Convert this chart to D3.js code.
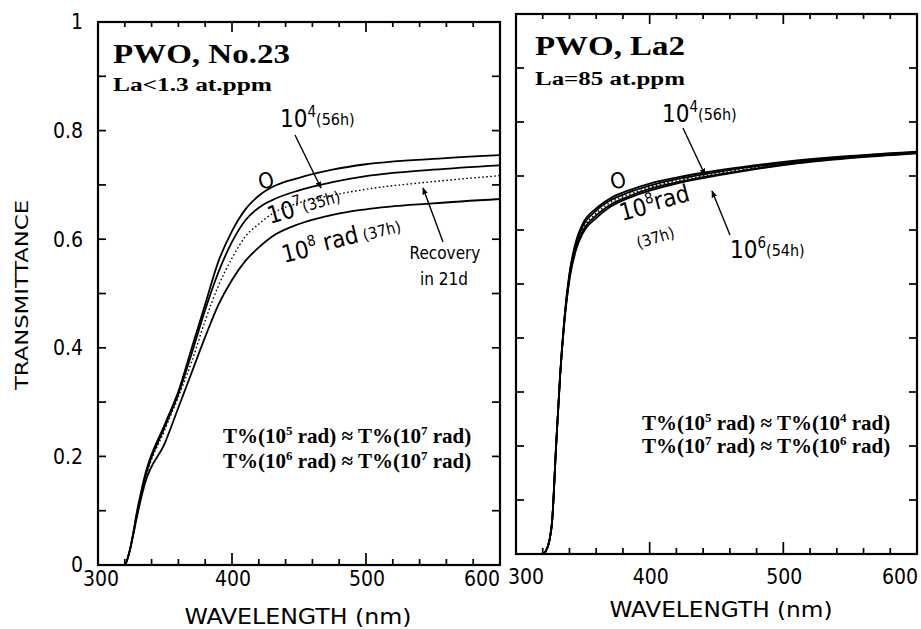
<!DOCTYPE html>
<html>
<head>
<meta charset="utf-8">
<script src="https://cdn.jsdelivr.net/npm/d3@7"></script>
<style>
body { margin: 0; background: #fff; }
svg { display: block; }
.sans { font-family: "DejaVu Sans Condensed", "DejaVu Sans", sans-serif; font-stretch: condensed; }
.serif { font-family: "Liberation Serif", "DejaVu Serif", serif; font-weight: bold; }
</style>
</head>
<body>
<svg width="921" height="629"></svg>
<script>
// left panel: PWO No.23
var wlA = [300, 320, 323, 330, 335, 350, 360, 370, 380, 390, 400, 410, 420, 430, 450, 475, 500, 550, 600];
var a0   = [0, 0, 0.02, 0.11, 0.165, 0.26, 0.32, 0.40, 0.48, 0.56, 0.615, 0.655, 0.68, 0.696, 0.713, 0.728, 0.738, 0.748, 0.755];
var a4   = [0, 0, 0.02, 0.105, 0.16, 0.255, 0.315, 0.39, 0.47, 0.54, 0.595, 0.635, 0.658, 0.672, 0.69, 0.705, 0.716, 0.728, 0.736];
var aRec = [0, 0, 0.02, 0.10, 0.155, 0.25, 0.31, 0.375, 0.45, 0.515, 0.565, 0.605, 0.628, 0.647, 0.667, 0.681, 0.692, 0.706, 0.717];
var a8   = [0, 0, 0.02, 0.10, 0.15, 0.225, 0.29, 0.355, 0.42, 0.48, 0.525, 0.56, 0.585, 0.605, 0.628, 0.645, 0.655, 0.666, 0.674];

// right panel: PWO La2
var wlB = [300, 320, 322, 325, 327, 330, 333, 336, 340, 345, 350, 360, 370, 385, 400, 420, 440, 470, 500, 550, 600];
var b0   = [0, 0, 0.004, 0.025, 0.06, 0.20, 0.33, 0.43, 0.52, 0.58, 0.612, 0.640, 0.658, 0.674, 0.686, 0.697, 0.706, 0.717, 0.726, 0.737, 0.745];
var b4   = [0, 0, 0.004, 0.025, 0.06, 0.20, 0.33, 0.43, 0.517, 0.576, 0.607, 0.636, 0.654, 0.670, 0.682, 0.694, 0.703, 0.715, 0.724, 0.736, 0.744];
var bRec = [0, 0, 0.004, 0.025, 0.06, 0.20, 0.33, 0.428, 0.514, 0.572, 0.602, 0.631, 0.650, 0.666, 0.679, 0.691, 0.700, 0.712, 0.722, 0.735, 0.743];
var b6   = [0, 0, 0.004, 0.025, 0.06, 0.20, 0.33, 0.426, 0.511, 0.568, 0.598, 0.627, 0.646, 0.663, 0.676, 0.688, 0.698, 0.710, 0.721, 0.734, 0.743];
var b8   = [0, 0, 0.004, 0.025, 0.06, 0.20, 0.33, 0.424, 0.508, 0.564, 0.594, 0.622, 0.642, 0.660, 0.673, 0.686, 0.696, 0.709, 0.720, 0.733, 0.742];

var xLabels = [300, 400, 500, 600];
var yLabels = [0, 0.2, 0.4, 0.6, 0.8, 1];
var minorX = [320, 340, 360, 380, 420, 440, 460, 480, 520, 540, 560, 580];
var majorX = [400, 500];
var yTicks = [0.1, 0.2, 0.3, 0.4, 0.5, 0.6, 0.7, 0.8, 0.9];

var svg = d3.select("svg");

svg.append("defs").append("marker")
    .attr("id", "arr")
    .attr("viewBox", "0 0 10 10")
    .attr("refX", 9).attr("refY", 5)
    .attr("markerWidth", 7).attr("markerHeight", 7)
    .attr("markerUnits", "userSpaceOnUse")
    .attr("orient", "auto")
    .append("path")
    .attr("d", "M0,1 L10,5 L0,9 Z")
    .attr("fill", "#000");

var panels = [
    { x0: 98, x1: 500, y0: 565, y1: 22, wl: wlA, yLab: true,
      series: [ { v: a0 }, { v: a4 }, { v: aRec, dot: true }, { v: a8 } ] },
    { x0: 516, x1: 917, y0: 554, y1: 14, wl: wlB, yLab: false,
      series: [ { v: b0 }, { v: b4 }, { v: bRec, dot: true }, { v: b6 }, { v: b8 } ] }
];

panels.forEach(function(p, i) {
    var x = d3.scaleLinear().domain([300, 600]).range([p.x0, p.x1]);
    var y = d3.scaleLinear().domain([0, 1]).range([p.y0, p.y1]);
    var g = svg.append("g");
    var xt = minorX.concat(majorX);
    function isMajor(d) { return majorX.indexOf(d) >= 0; }

    // inward ticks on all four sides
    g.selectAll(".tb").data(xt).enter().append("line")
        .attr("x1", function(d) { return x(d); }).attr("x2", function(d) { return x(d); })
        .attr("y1", y(0)).attr("y2", function(d) { return y(0) - (isMajor(d) ? 12 : 6); });
    g.selectAll(".tt").data(xt).enter().append("line")
        .attr("x1", function(d) { return x(d); }).attr("x2", function(d) { return x(d); })
        .attr("y1", y(1)).attr("y2", function(d) { return y(1) + (isMajor(d) ? 10 : 5); });
    g.selectAll(".tl").data(yTicks).enter().append("line")
        .attr("x1", x(300)).attr("x2", x(300) + 8)
        .attr("y1", function(d) { return y(d); }).attr("y2", function(d) { return y(d); });
    g.selectAll(".tr").data(yTicks).enter().append("line")
        .attr("x1", x(600)).attr("x2", x(600) - 8)
        .attr("y1", function(d) { return y(d); }).attr("y2", function(d) { return y(d); });
    g.selectAll("line").attr("stroke", "#000").attr("stroke-width", 1.7);

    var line = d3.line()
        .x(function(d) { return x(d[0]); })
        .y(function(d) { return y(d[1]); })
        .curve(d3.curveMonotoneX);

    p.series.forEach(function(s) {
        g.append("path")
            .datum(p.wl.map(function(w, k) { return [w, s.v[k]]; }))
            .attr("d", line)
            .attr("fill", "none")
            .attr("stroke", "#000")
            .attr("stroke-width", s.dot ? 1.4 : 1.8)
            .attr("stroke-dasharray", s.dot ? "1.6,2.4" : null);
    });

    g.append("rect")
        .attr("x", x(300)).attr("y", y(1))
        .attr("width", x(600) - x(300)).attr("height", y(0) - y(1))
        .attr("fill", "none").attr("stroke", "#000").attr("stroke-width", 2.2);

    g.selectAll(".xl").data(xLabels).enter().append("text")
        .attr("class", "sans")
        .attr("x", function(d) {
            if (d === 600) return x(d) - (i === 0 ? 18 : 17);
            if (d === 300) return x(d) + (i === 0 ? 3 : 10);
            return x(d) + 1;
        })
        .attr("y", i === 0 ? 586 : 584)
        .attr("text-anchor", "middle")
        .attr("font-size", 21)
        .text(function(d) { return d; });

    if (p.yLab) {
        g.selectAll(".yl").data(yLabels).enter().append("text")
            .attr("class", "sans")
            .attr("x", x(300) - 15)
            .attr("y", function(d) { return y(d); })
            .attr("dy", "0.35em")
            .attr("text-anchor", "end")
            .attr("font-size", 21)
            .text(function(d) { return d; });
    }
});

// axis titles
svg.append("text").attr("class", "sans")
    .attr("transform", "translate(28,295) rotate(-90)")
    .attr("text-anchor", "middle").attr("font-size", 18)
    .attr("textLength", 190).attr("lengthAdjust", "spacingAndGlyphs")
    .text("TRANSMITTANCE");
svg.append("text").attr("class", "sans")
    .attr("x", 298).attr("y", 624).attr("text-anchor", "middle").attr("font-size", 22)
    .attr("textLength", 227).attr("lengthAdjust", "spacingAndGlyphs")
    .text("WAVELENGTH  (nm)");
svg.append("text").attr("class", "sans")
    .attr("x", 721).attr("y", 617).attr("text-anchor", "middle").attr("font-size", 22)
    .attr("textLength", 223).attr("lengthAdjust", "spacingAndGlyphs")
    .text("WAVELENGTH  (nm)");

// panel titles
function serif(x, y, size, len, str) {
    svg.append("text").attr("class", "serif")
        .attr("x", x).attr("y", y).attr("font-size", size)
        .attr("textLength", len).attr("lengthAdjust", "spacingAndGlyphs")
        .text(str);
}
serif(113, 63, 28, 177, "PWO, No.23");
serif(113, 91, 18, 159, "La<1.3 at.ppm");
serif(535, 55, 28, 150, "PWO, La2");
serif(535, 85, 18, 150, "La=85 at.ppm");

// relation lines
function relation(x, yb, a, b) {
    var t = svg.append("text").attr("class", "serif")
        .attr("x", x).attr("y", yb).attr("font-size", 21);
    t.append("tspan").text("T%(10");
    t.append("tspan").attr("dy", -8).attr("font-size", 13).text(a);
    t.append("tspan").attr("dy", 8).text(" rad) \u2248 T%(10");
    t.append("tspan").attr("dy", -8).attr("font-size", 13).text(b);
    t.append("tspan").attr("dy", 8).text(" rad)");
}
relation(223, 443, "5", "7");
relation(223, 468, "6", "7");
relation(642, 430, "5", "4");
relation(642, 453, "7", "6");

// dose labels
function dose(x, y, rot, exp, mid, tail) {
    var t = svg.append("text").attr("class", "sans")
        .attr("transform", "translate(" + x + "," + y + ") rotate(" + rot + ")")
        .attr("font-size", 24);
    t.append("tspan").text("10");
    t.append("tspan").attr("dy", -10).attr("font-size", 15).text(exp);
    var r = t.append("tspan").attr("dy", 8);
    if (mid) { r.text(mid); r = t.append("tspan"); }
    if (tail) r.attr("font-size", 16).text(tail);
}
function plain(x, y, rot, size, str) {
    svg.append("text").attr("class", "sans")
        .attr("transform", "translate(" + x + "," + y + ") rotate(" + rot + ")")
        .attr("text-anchor", "middle").attr("font-size", size)
        .text(str);
}
function arrow(x1, y1, x2, y2) {
    svg.append("line")
        .attr("x1", x1).attr("y1", y1).attr("x2", x2).attr("y2", y2)
        .attr("stroke", "#000").attr("stroke-width", 1.4)
        .attr("marker-end", "url(#arr)");
}

plain(268, 188, -15, 22, "O");
dose(280, 127, 0, "4", null, "(56h)");
arrow(295, 135, 321, 188);
dose(270, 224, -16, "7", null, "(35h)");
dose(284, 263, -14, "8", " rad", " (37h)");
plain(445, 259, 0, 17, "Recovery");
plain(444, 285, 0, 17, "in 21d");
arrow(443, 242, 423, 188);

plain(620, 188, -15, 22, "O");
dose(662, 122, 0, "4", null, "(56h)");
arrow(683, 128, 705, 175);
dose(622, 221, -15, "8", "rad", null);
plain(657, 243, -17, 16, "(37h)");
dose(730, 258, 0, "6", null, "(54h)");
arrow(730, 235, 712, 191);
</script>
</body>
</html>
